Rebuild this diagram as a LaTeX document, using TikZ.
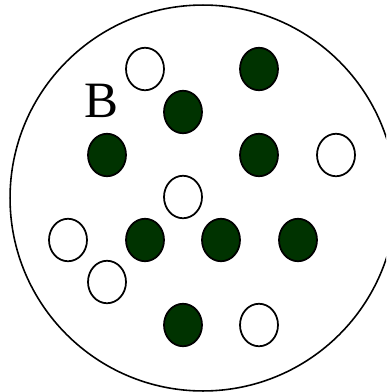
\documentclass[tikz,border=0pt]{standalone}
\usepackage{fontspec}
\setmainfont{Liberation Serif}
\usepackage{xcolor}
\usetikzlibrary{shapes.geometric}
\definecolor{darkgreen}{RGB}{0,51,0}

\begin{document}
\begin{tikzpicture}[
    x=0.02cm, y=-0.02cm,
    ball/.style={ellipse, draw=black, line width=1pt, minimum width=0.76cm, minimum height=0.85cm, inner sep=0pt},
    white ball/.style={ball, fill=white},
    green ball/.style={ball, fill=darkgreen}
]
\useasboundingbox (0,0) rectangle (386,392);
\clip (0,0) rectangle (386,392);
\fill[white] (0,0) rectangle (386,392);

\node[circle, draw=black, line width=0.9pt, fill=white, minimum size=7.72cm, inner sep=0pt] (set) at (203,198) {};

\node[font=\fontsize{29}{31}\selectfont] (label) at (101,101) {B};

\node[white ball] (w1) at (145,69) {};
\node[green ball] (g1) at (259,69) {};
\node[green ball] (g2) at (183,112) {};
\node[green ball] (g3) at (107,155) {};
\node[green ball] (g4) at (259,155) {};
\node[white ball] (w2) at (336,155) {};
\node[white ball] (w3) at (183,197) {};
\node[white ball] (w4) at (68,240) {};
\node[green ball] (g5) at (145,240) {};
\node[green ball] (g6) at (221,240) {};
\node[green ball] (g7) at (298,240) {};
\node[white ball] (w5) at (107,282) {};
\node[green ball] (g8) at (183,325) {};
\node[white ball] (w6) at (259,325) {};
\end{tikzpicture}
\end{document}
